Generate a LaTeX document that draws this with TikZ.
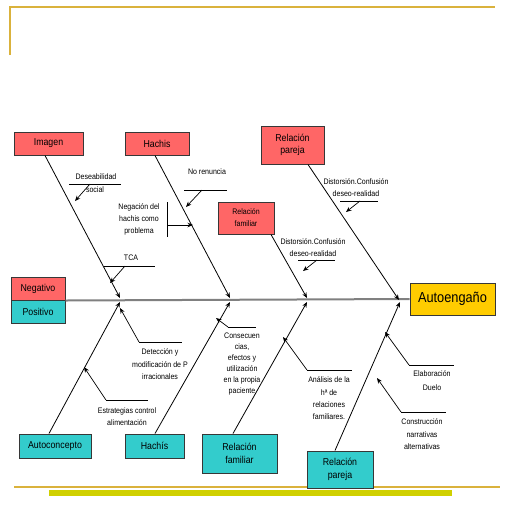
\documentclass[tikz,border=0pt]{standalone}
\usepackage{fontspec}
\setmainfont{Liberation Sans}
\newfontfamily\nar[FakeStretch=0.88]{Liberation Sans}
\usetikzlibrary{arrows.meta}
\definecolor{boxred}{RGB}{255,102,102}
\definecolor{boxcyan}{RGB}{51,204,204}
\definecolor{boxyel}{RGB}{255,204,0}
\definecolor{gold}{RGB}{218,178,60}
\definecolor{olivebar}{RGB}{208,208,0}
\definecolor{spinegray}{RGB}{128,128,128}
\definecolor{edgegray}{RGB}{55,55,55}
\begin{document}
\begin{tikzpicture}[x=1pt,y=-1pt,
  box/.style={draw=edgegray,line width=1pt,inner sep=0pt,align=center,font=\nar\fontsize{10}{12.5}\selectfont},
  redbox/.style={box,fill=boxred},
  cyanbox/.style={box,fill=boxcyan},
  rib/.style={line width=0.8pt,-{Stealth[length=5.5pt,width=4.5pt]}},
  subarrow/.style={line width=0.7pt,-{Stealth[length=5.5pt,width=4.5pt]}},
  tickline/.style={line width=0.7pt},
  lbl/.style={inner sep=0pt,align=center,font=\nar\fontsize{8}{12}\selectfont},
]
\useasboundingbox (0,0) rectangle (505,504);

% frame decorations
\draw[gold,line width=1.6pt] (10,55) -- (10,7) -- (495,7);
\draw[gold,line width=1.3pt] (14,487) -- (500,487);
\fill[olivebar] (49,490) rectangle (452,496);

% category boxes
\node[redbox,minimum width=69pt,minimum height=23pt] (img) at (48.5,143.5) {Imagen};
\node[redbox,minimum width=64pt,minimum height=23pt] (hat) at (157,143.5) {Hachis};
\node[redbox,minimum width=63pt,minimum height=38pt] (rpt) at (292.5,145) {Relación\\pareja};
\node[redbox,minimum width=56pt,minimum height=32pt,font=\nar\fontsize{8}{12}\selectfont] (rft) at (246,218) {Relación\\familiar};
\node[redbox,minimum width=54pt,minimum height=23pt] (neg) at (38,288.5) {Negativo};
\node[cyanbox,minimum width=54pt,minimum height=23pt] (pos) at (38,311.5) {Positivo};
\node[box,fill=boxyel,minimum width=85pt,minimum height=32pt,font=\nar\fontsize{14.5}{16}\selectfont] (aut) at (452.5,299) {Autoengaño};
\node[cyanbox,minimum width=72pt,minimum height=24pt] (acp) at (55,446) {Autoconcepto};
\node[cyanbox,minimum width=59pt,minimum height=24pt] (hab) at (154.5,446) {Hachís};
\node[cyanbox,minimum width=75pt,minimum height=39pt] (rfb) at (239.5,453.5) {Relación\\familiar};
\node[cyanbox,minimum width=66pt,minimum height=37pt] (rpb) at (340,469.5) {Relación\\pareja};

% spine
\draw[spinegray,line width=2pt] (neg.south east) -- (aut.west);

% rib endpoints on spine
\coordinate (e1) at (120,298);
\coordinate (e2) at (230,298);
\coordinate (e3) at (307,298);
\coordinate (e4) at (399,300);
\coordinate (f1) at (120,302);
\coordinate (f2) at (230,302);
\coordinate (f3) at (307,302);
\coordinate (f4) at (400,302);

% ribs
\draw[rib] ([xshift=-3.5pt]img.south) -- (e1);
\draw[rib] ([xshift=-2pt]hat.south) -- (e2);
\draw[rib] ([xshift=25pt]rft.south) -- (e3);
\draw[rib] ([xshift=15.5pt]rpt.south) -- (e4);
\draw[rib] ([xshift=-6pt]acp.north) -- (f1);
\draw[rib] ([xshift=0.5pt]hab.north) -- (f2);
\draw[rib] ([xshift=-6.5pt]rfb.north) -- (f3);
\draw[rib] ([xshift=-5pt]rpb.north) -- (f4);

% --- upper causes ---
% Deseabilidad social
\node[lbl] (t1a) at (96,176.5) {Deseabilidad};
\node[lbl] (t1b) at (95,190) {social};
\coordinate (l1a) at (69,184); \coordinate (l1b) at (121,184);
\draw[tickline] (l1a) -- (l1b);
\coordinate (s1) at (90,184); \coordinate (a1) at (75,201);
\draw[subarrow] (s1) -- (a1);

% No renuncia
\node[lbl] (t2) at (207,171.5) {No renuncia};
\coordinate (l2a) at (184,190); \coordinate (l2b) at (227,190);
\draw[tickline] (l2a) -- (l2b);
\coordinate (s2) at (202,190); \coordinate (a2) at (186,207);
\draw[subarrow] (s2) -- (a2);

% Negación del hachis como problema
\node[lbl] (t3) at (139,219) {Negación del\\hachis como\\problema};
\coordinate (l3a) at (167,202); \coordinate (l3b) at (167,237);
\draw[tickline] (l3a) -- (l3b);
\coordinate (s3) at (167,225); \coordinate (a3) at (193,225);
\draw[subarrow] (s3) -- (a3);

% TCA
\node[lbl] (t4) at (131,258) {TCA};
\coordinate (l4a) at (104,266); \coordinate (l4b) at (155,266);
\draw[tickline] (l4a) -- (l4b);
\coordinate (s4) at (125,266); \coordinate (a4) at (110,283);
\draw[subarrow] (s4) -- (a4);

% Distorsion (pareja)
\node[lbl] (t5) at (356,188) {Distorsión.Confusión\\deseo-realidad};
\coordinate (l5a) at (340,201); \coordinate (l5b) at (378,201);
\draw[tickline] (l5a) -- (l5b);
\coordinate (s5) at (360,201); \coordinate (a5) at (346,212);
\draw[subarrow] (s5) -- (a5);

% Distorsion (familiar)
\node[lbl] (t6) at (313,247.5) {Distorsión.Confusión\\deseo-realidad};
\coordinate (l6a) at (298,260); \coordinate (l6b) at (335,260);
\draw[tickline] (l6a) -- (l6b);
\coordinate (s6) at (317,260); \coordinate (a6) at (303,271);
\draw[subarrow] (s6) -- (a6);

% --- lower causes ---
% Detección
\node[lbl,font=\nar\fontsize{8}{12.5}\selectfont] (t7) at (160,364.5) {Detección y\\modificación de P\\irracionales};
\coordinate (l7a) at (139,342); \coordinate (l7b) at (182,342);
\draw[tickline] (l7a) -- (l7b);
\coordinate (a7) at (120,308);
\draw[subarrow] (l7a) -- (a7);

% Estrategias
\node[lbl] (t8) at (127,417) {Estrategias control\\alimentación};
\coordinate (l8a) at (106,400); \coordinate (l8b) at (148,400);
\draw[tickline] (l8a) -- (l8b);
\coordinate (a8) at (84,367);
\draw[subarrow] (l8a) -- (a8);

% Consecuencias
\node[lbl,font=\nar\fontsize{8}{11}\selectfont] (t9) at (242,364.5) {Consecuen\\cias,\\efectos y\\utilización\\en la propia\\paciente};
\coordinate (l9a) at (228,327); \coordinate (l9b) at (256,327);
\draw[tickline] (l9a) -- (l9b);
\coordinate (a9) at (216,318);
\draw[subarrow] (l9a) -- (a9);

% Análisis
\node[lbl,font=\nar\fontsize{8}{12.3}\selectfont] (t10) at (329,398.5) {Análisis de la\\hª de\\relaciones\\familiares.};
\coordinate (l10a) at (307,370); \coordinate (l10b) at (352,370);
\draw[tickline] (l10a) -- (l10b);
\coordinate (a10) at (283,337);
\draw[subarrow] (l10a) -- (a10);

% Elaboración Duelo
\node[lbl,font=\nar\fontsize{8}{14}\selectfont] (t11) at (432,381) {Elaboración\\Duelo};
\coordinate (l11a) at (409,365); \coordinate (l11b) at (454,365);
\draw[tickline] (l11a) -- (l11b);
\coordinate (a11) at (385,332);
\draw[subarrow] (l11a) -- (a11);

% Construcción
\node[lbl,font=\nar\fontsize{8}{12.5}\selectfont] (t12) at (422,434.5) {Construcción\\narrativas\\alternativas};
\coordinate (l12a) at (401,412); \coordinate (l12b) at (446,412);
\draw[tickline] (l12a) -- (l12b);
\coordinate (a12) at (377,378);
\draw[subarrow] (l12a) -- (a12);
\end{tikzpicture}
\end{document}
